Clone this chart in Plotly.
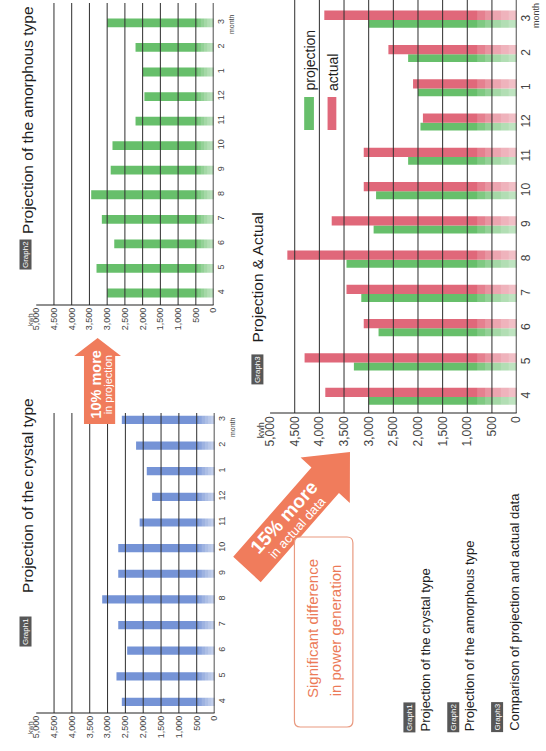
import math
import plotly.graph_objects as go

W, H = 546, 751
FONT = "Liberation Sans, Arial, sans-serif"

# ---------------- data ----------------
months = ["4", "5", "6", "7", "8", "9", "10", "11", "12", "1", "2", "3"]
crystal_kwh = [2600, 2750, 2450, 2700, 3150, 2700, 2700, 2100, 1750, 1900, 2200, 2600]
amorphous_kwh = [3000, 3300, 2800, 3150, 3450, 2900, 2850, 2200, 1950, 2000, 2200, 3000]
projection_kwh = [3000, 3300, 2800, 3150, 3450, 2900, 2850, 2200, 1950, 2000, 2200, 3000]
actual_kwh = [3880, 4300, 3100, 3450, 4650, 3750, 3100, 3100, 1900, 2100, 2600, 3900]
value_ticks = [0, 500, 1000, 1500, 2000, 2500, 3000, 3500, 4000, 4500, 5000]
value_tick_text = ["0", "500", "1,000", "1,500", "2,000", "2,500", "3,000",
                   "3,500", "4,000", "4,500", "5,000"]

BLUE = "#7593d6"
GREEN = "#67bf6b"
RED = "#e0687a"
ORANGE = "#f07c5c"


def px(x):
    return x / W


def py(y):
    return 1 - y / H


fig = go.Figure()
fig.add_trace(go.Bar(y=months, x=crystal_kwh, orientation="h", width=0.32,
                     marker=dict(color=BLUE, line_width=0), xaxis="x", yaxis="y",
                     hoverinfo="skip"))
fig.add_trace(go.Bar(y=months, x=amorphous_kwh, orientation="h", width=0.36,
                     marker=dict(color=GREEN, line_width=0), xaxis="x2", yaxis="y2",
                     hoverinfo="skip"))
fig.add_trace(go.Bar(y=months, x=projection_kwh, orientation="h", width=0.23, offset=-0.23,
                     marker=dict(color=GREEN, line_width=0), xaxis="x3", yaxis="y3",
                     hoverinfo="skip", name="projection"))
fig.add_trace(go.Bar(y=months, x=actual_kwh, orientation="h", width=0.27, offset=0.0,
                     marker=dict(color=RED, line_width=0), xaxis="x3", yaxis="y3",
                     hoverinfo="skip", name="actual"))


def xax(x0, x1, anchor, size):
    return dict(domain=[px(x0), px(x1)], anchor=anchor, range=[5000, 0],
                tickmode="array", tickvals=value_ticks, ticktext=value_tick_text,
                tickangle=-90, tickfont=dict(size=size, color="#444", family=FONT),
                showgrid=False, zeroline=False, showline=False, ticks="",
                fixedrange=True)


def yax(ytop, ybot, anchor, rng, size):
    return dict(domain=[py(ybot), py(ytop)], anchor=anchor, type="category",
                categoryorder="array", categoryarray=months, range=rng,
                side="right", tickangle=-90,
                tickfont=dict(size=size, color="#444", family=FONT),
                showgrid=False, zeroline=False, showline=False, ticks="",
                fixedrange=True)


shapes = []


def graph_lines(xr, yr, fade_kwh):
    n = 5
    for k in range(1, n + 1):
        shapes.append(dict(type="rect", xref=xr, yref=yr + " domain", x0=0,
                           x1=fade_kwh * k / n, y0=0.004, y1=1, fillcolor="white",
                           opacity=0.16, line_width=0, layer="above"))
    for v in value_ticks[1:-1]:
        shapes.append(dict(type="line", xref=xr, yref=yr + " domain", x0=v, x1=v,
                           y0=0, y1=1, line=dict(color="#2e2e2e", width=1),
                           layer="above"))
    shapes.append(dict(type="line", xref=xr + " domain", yref=yr + " domain",
                       x0=0, x1=1, y0=0, y1=0, line=dict(color="#222", width=1.2),
                       layer="above"))
    shapes.append(dict(type="line", xref=xr, yref=yr + " domain", x0=0, x1=0,
                       y0=0, y1=1, line=dict(color="#222", width=1.6), layer="above"))


graph_lines("x", "y", 450)
graph_lines("x2", "y2", 450)
graph_lines("x3", "y3", 800)


def path_px(points):
    return "M " + " L ".join(f"{px(x):.5f},{py(y):.5f}" for x, y in points) + " Z"


# vertical arrow "10% more"
arrow1 = [(93, 338), (117, 356), (111, 356), (111, 424), (79, 424), (79, 356), (69, 356)]
shapes.append(dict(type="path", xref="paper", yref="paper", path=path_px(arrow1),
                   fillcolor=ORANGE, line_width=0, layer="above"))

# diagonal arrow "15% more"
ang = math.radians(48)
u = (math.cos(ang), -math.sin(ang))
n = (math.sin(ang), math.cos(ang))
tip = (352, 452)


def along(p, b, a=0.0):
    return (p[0] - b * u[0] + a * n[0], p[1] - b * u[1] + a * n[1])


arrow2 = [tip, along(tip, 38, 34), along(tip, 38, 19), along(tip, 158, 19),
          along(tip, 158, -19), along(tip, 38, -19), along(tip, 38, -34)]
shapes.append(dict(type="path", xref="paper", yref="paper", path=path_px(arrow2),
                   fillcolor=ORANGE, line_width=0, layer="above"))
line1 = along(tip, 94, -7)
line2 = along(tip, 92, 10)


# rounded box
def rounded(x0, y0, x1, y1, r):
    rx, ry = r / W, r / H
    X0, X1 = px(x0), px(x1)
    Y0, Y1 = py(y1), py(y0)
    return (f"M {X0+rx},{Y0} L {X1-rx},{Y0} Q {X1},{Y0} {X1},{Y0+ry} "
            f"L {X1},{Y1-ry} Q {X1},{Y1} {X1-rx},{Y1} L {X0+rx},{Y1} "
            f"Q {X0},{Y1} {X0},{Y1-ry} L {X0},{Y0+ry} Q {X0},{Y0} {X0+rx},{Y0} Z")


shapes.append(dict(type="path", xref="paper", yref="paper",
                   path=rounded(295, 537, 355, 727, 6), fillcolor="white",
                   line=dict(color="#e99a80", width=1.2), layer="above"))

# legend swatches
shapes.append(dict(type="rect", xref="paper", yref="paper", x0=px(305), x1=px(315),
                   y0=py(130), y1=py(97), fillcolor=GREEN, line_width=0, layer="above"))
shapes.append(dict(type="rect", xref="paper", yref="paper", x0=px(329), x1=px(338),
                   y0=py(130), y1=py(97), fillcolor=RED, line_width=0, layer="above"))

ann = []


def text(x, y, s, size, color="#1e1e1e", angle=-90, xa="center", ya="middle", bg=None):
    d = dict(x=px(x), y=py(y), xref="paper", yref="paper", text=s, showarrow=False,
             textangle=angle, font=dict(size=size, color=color, family=FONT),
             xanchor=xa, yanchor=ya)
    if bg:
        d.update(bgcolor=bg, borderpad=1)
    return d


BADGE = "#575757"
# titles
ann.append(text(21, 5, "Projection of the amorphous type", 15.5, ya="top"))
ann.append(text(19, 239, "Graph2", 8, color="white", ya="top", bg=BADGE))
ann.append(text(21, 396, "Projection of the crystal type", 15.5, ya="top"))
ann.append(text(19, 616, "Graph1", 8, color="white", ya="top", bg=BADGE))
ann.append(text(257, 210, "Projection &amp; Actual", 15.5, ya="top"))
ann.append(text(257, 354, "Graph3", 8, color="white", ya="top", bg=BADGE))

# unit labels
ann.append(text(24, 719, "kwh", 7, color="#444", ya="top"))
ann.append(text(24, 311, "kwh", 7, color="#444", ya="top"))
ann.append(text(261, 420, "kwh", 9, color="#444", ya="top"))
ann.append(text(231, 427, "month", 7, color="#444"))
ann.append(text(231, 24, "month", 7, color="#444"))
ann.append(text(543, 16, "month", 9, color="#444"))

# legend texts
ann.append(text(310, 93, "projection", 14, ya="bottom"))
ann.append(text(334, 93, "actual", 14, ya="bottom"))

# arrow texts
ann.append(text(91, 384, "<b>10% more</b>", 14.5, color="white"))
ann.append(text(104, 385, "in projection", 11, color="white"))
ann.append(text(line1[0], line1[1], "<b>15% more</b>", 19, color="white", angle=-48))
ann.append(text(line2[0], line2[1], "in actual data", 13, color="white", angle=-48))

# box texts
ann.append(text(313, 628, "Significant difference", 15, color="#ec7a58"))
ann.append(text(337, 630, "in power generation", 15, color="#ec7a58"))

# bottom-right descriptions
ann.append(text(413, 733, "Graph1", 8, color="white", ya="bottom", bg=BADGE))
ann.append(text(430, 733, "Projection of the crystal type", 13, ya="bottom"))
ann.append(text(458, 733, "Graph2", 8, color="white", ya="bottom", bg=BADGE))
ann.append(text(475, 733, "Projection of the amorphous type", 13, ya="bottom"))
ann.append(text(503, 733, "Graph3", 8, color="white", ya="bottom", bg=BADGE))
ann.append(text(520, 733, "Comparison of projection and actual data", 13, ya="bottom"))

fig.update_layout(
    width=W, height=H, margin=dict(l=0, r=0, t=0, b=0),
    paper_bgcolor="white", plot_bgcolor="rgba(0,0,0,0)",
    showlegend=False, barmode="overlay",
    font=dict(family=FONT),
    xaxis=xax(30, 213, "y", 9),
    yaxis=yax(413, 713, "x", [-0.43, 11.27], 9),
    xaxis2=xax(30, 212, "y2", 9),
    yaxis2=yax(3, 305, "x2", [-0.49, 11.81], 9),
    xaxis3=xax(270, 523, "y3", 12),
    yaxis3=yax(0, 413, "x3", [-0.47, 11.58], 12),
    shapes=shapes, annotations=ann,
)

fig.write_html("out.html")
